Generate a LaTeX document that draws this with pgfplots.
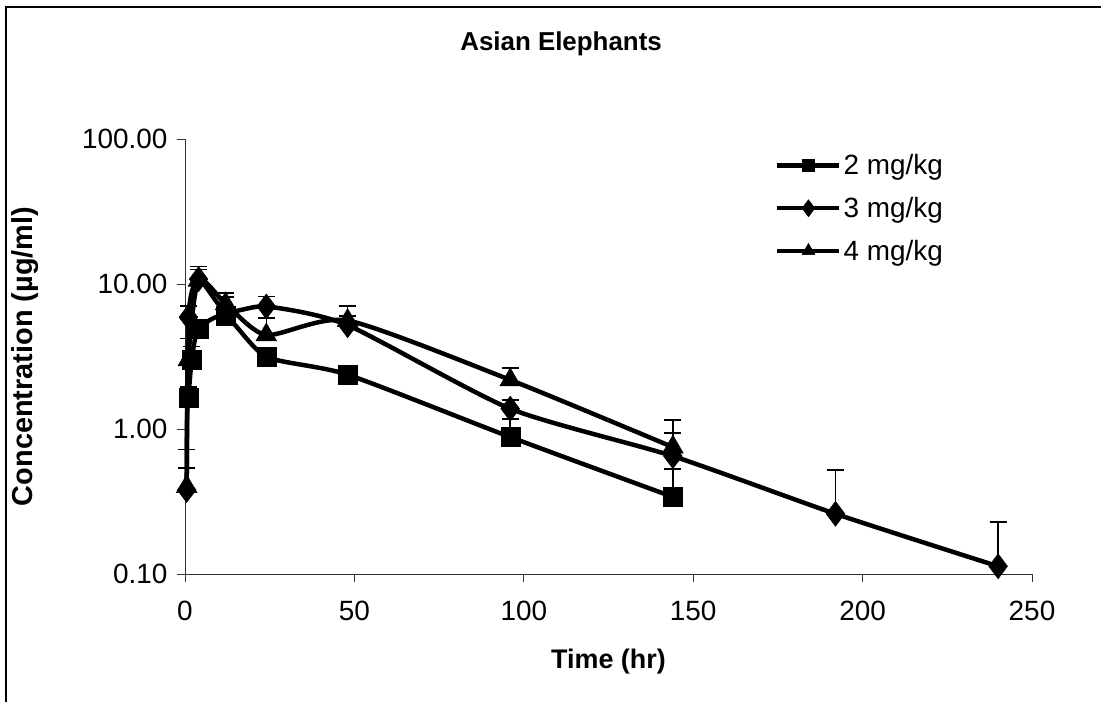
\documentclass[border=0pt]{standalone}
\usepackage{fontspec}
\setmainfont{Liberation Sans}
\usepackage{pgfplots}
\pgfplotsset{compat=1.18}
\usepackage{pgfplotstable}

\pgfplotstableread{
x y e
1 1.65 0.30
2 3.00 0.70
4 4.90 0.60
12 6.00 0.70
24 3.15 0.30
48 2.37 0.20
96 0.88 0.29
144 0.34 0.19
}\sqdata

\pgfplotstableread{
x y e
0.5 0.38 0.34
1 5.90 1.15
4 10.80 2.40
12 6.50 1.60
24 7.00 1.20
48 5.20 0.80
96 1.38 0.20
144 0.65 0.29
192 0.26 0.26
240 0.113 0.115
}\dmdata

\pgfplotstableread{
x y e
0.5 0.40 0.14
1 3.00 1.20
4 10.60 2.00
12 7.30 1.40
24 4.45 1.35
48 5.60 1.45
96 2.18 0.45
144 0.75 0.40
}\trdata

\begin{document}
\begin{tikzpicture}
\useasboundingbox (0,0) rectangle (1101bp,702bp);
\draw[line width=1.2bp] (6bp,0bp) -- (6bp,695bp) -- (1101bp,695bp);
\begin{axis}[
  at={(185bp,128bp)}, anchor=south west,
  scale only axis, width=847bp, height=435bp,
  ymode=log, xmin=0, xmax=250, ymin=0.1, ymax=100,
  axis x line=bottom, axis y line=left,
  axis line style={-, line width=0.8bp, black!80},
  tick style={line width=0.8bp, black!80},
  tick align=outside, major tick length=8bp,
  minor tick num=0,
  xtick={0,50,100,150,200,250},
  xticklabels={0,50,100,150,200,250},
  ytick={0.1,1,10,100},
  yticklabels={0.10,1.00,10.00,100.00},
  yminorticks=false,
  ticklabel style={font=\fontsize{28}{32}\selectfont},
  x tick label style={yshift=-16bp},
  y tick label style={xshift=-6bp},
  xlabel={\textbf{Time (hr)}},
  ylabel={\textbf{Concentration (µg/ml)}},
  xlabel style={font=\fontsize{27}{32}\selectfont, at={(axis description cs:0.5,0)}, anchor=center, yshift=-88bp},
  ylabel style={font=\fontsize{29}{34}\selectfont, at={(axis description cs:0,0.5)}, anchor=center, yshift=160bp},
  clip=false,
  legend style={draw=none, fill=none, at={(axis description cs:0.6966,0.969)}, anchor=north west,
    font=\fontsize{28}{32}\selectfont, row sep=17bp, inner sep=0pt,
    nodes={inner sep=2bp}},
  legend cell align=left,
  legend image code/.code={
    \draw[#1,mark=none] (0bp,0bp) -- (62bp,0bp);
    \draw[#1] plot coordinates {(31bp,0bp)};
  },
  error bars/error bar style={line width=1.6bp, black},
  error bars/error mark options={line width=1.6bp, mark size=8.5bp, black, rotate=90},
]
\node[font=\fontsize{26}{31}\selectfont\bfseries] at (axis description cs:0.444,1.218) {Asian Elephants};

\addplot[black, line width=4.5bp, smooth, tension=0.4, mark=square*, mark size=9.5bp,
  mark options={solid, line width=0.5bp},
  legend image post style={mark size=6bp},
  error bars/.cd, y dir=plus, y explicit]
  table[x=x, y=y, y error=e] {\sqdata};
\addlegendentry{2 mg/kg}

\addplot[black, line width=4.5bp, smooth, tension=0.4, mark=diamond*, mark size=12.5bp,
  mark options={solid, line width=0.5bp},
  legend image post style={mark size=8.5bp},
  error bars/.cd, y dir=plus, y explicit]
  table[x=x, y=y, y error=e] {\dmdata};
\addlegendentry{3 mg/kg}

\addplot[black, line width=4.5bp, smooth, tension=0.4, mark=triangle*, mark size=12bp,
  mark options={solid, line width=0.5bp},
  legend image post style={mark size=7.5bp},
  error bars/.cd, y dir=plus, y explicit]
  table[x=x, y=y, y error=e] {\trdata};
\addlegendentry{4 mg/kg}
\end{axis}
\end{tikzpicture}
\end{document}
